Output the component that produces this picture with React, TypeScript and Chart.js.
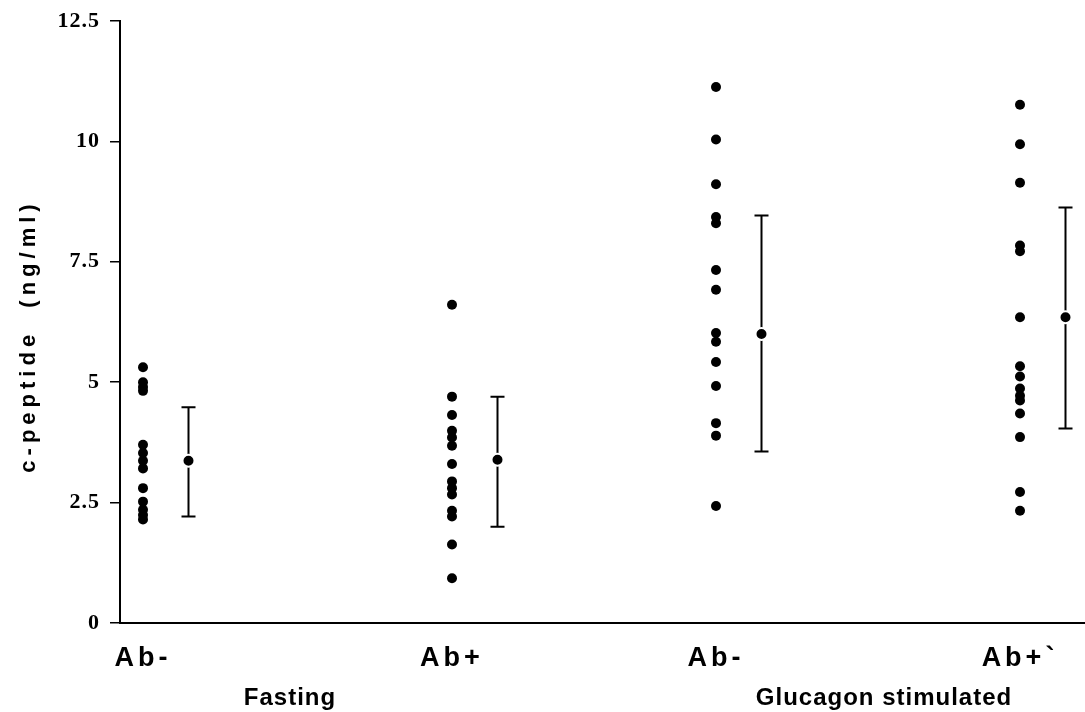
import React, { useEffect, useRef } from "react";
import { Chart, registerables } from "chart.js";

Chart.register(...registerables);

// ---- data ----
const categoryLabels = ["Ab-", "Ab+", "Ab-", "Ab+`"];
const groupLabels = ["Fasting", "Glucagon stimulated"];

const abNegFasting = [5.31, 5.0, 4.9, 4.82, 3.7, 3.53, 3.37, 3.21, 2.8, 2.52, 2.35, 2.24, 2.15];
const abPosFasting = [6.61, 4.7, 4.32, 3.99, 3.85, 3.68, 3.3, 2.94, 2.8, 2.67, 2.33, 2.21, 1.63, 0.93];
const abNegGlucagon = [11.13, 10.04, 9.11, 8.43, 8.3, 7.33, 6.92, 6.02, 5.84, 5.42, 4.92, 4.15, 3.89, 2.43];
const abPosGlucagon = [10.76, 9.94, 9.14, 7.84, 7.72, 6.35, 5.33, 5.12, 4.87, 4.72, 4.62, 4.35, 3.86, 2.72, 2.33];

const meanValues = [3.37, 3.39, 6.0, 6.35];
const sdUpper = [4.48, 4.7, 8.46, 8.63];
const sdLower = [2.21, 2.0, 3.56, 4.04];

const yTickValues = [0, 2.5, 5, 7.5, 10, 12.5];
const yTickLabels = ["0", "2.5", "5", "7.5", "10", "12.5"];
const yTitle = "c-peptide  (ng/ml)";

// category positions along the (linear) x axis
const categoryX = [0.23, 3.32, 5.96, 9.0];
const meanOffset = 0.455;
const groupCenterX = [1.7, 7.64];
const xMin = 0;
const xMax = 9.65;

const seriesValues = [abNegFasting, abPosFasting, abNegGlucagon, abPosGlucagon];

const SANS = "'Liberation Sans', Arial, Helvetica, sans-serif";
const SERIF = "'Liberation Serif', 'Times New Roman', serif";

const customPlugin = {
  id: "customDraw",
  beforeDraw(chart: any) {
    chart.ctx.letterSpacing = "4px";
  },
  beforeDatasetsDraw(chart: any) {
    const ctx = chart.ctx;
    ctx.letterSpacing = "1px";
    const xs = chart.scales.x;
    const ys = chart.scales.y;
    ctx.save();
    ctx.strokeStyle = "#000";
    ctx.lineWidth = 2;
    meanValues.forEach((_m, i) => {
      const px = xs.getPixelForValue(categoryX[i] + meanOffset);
      const top = ys.getPixelForValue(sdUpper[i]);
      const bot = ys.getPixelForValue(sdLower[i]);
      ctx.beginPath();
      ctx.moveTo(px, top);
      ctx.lineTo(px, bot);
      ctx.moveTo(px - 7, top);
      ctx.lineTo(px + 7, top);
      ctx.moveTo(px - 7, bot);
      ctx.lineTo(px + 7, bot);
      ctx.stroke();
    });
    ctx.restore();
  },
  afterDraw(chart: any) {
    const ctx = chart.ctx;
    const area = chart.chartArea;
    ctx.save();
    ctx.letterSpacing = "5px";
    ctx.font = `bold 22px ${SANS}`;
    ctx.fillStyle = "#000";
    ctx.translate(35, (area.top + area.bottom) / 2 + 14);
    ctx.rotate(-Math.PI / 2);
    ctx.textAlign = "center";
    ctx.textBaseline = "alphabetic";
    ctx.fillText(yTitle, 0, 0);
    ctx.restore();
    ctx.letterSpacing = "0px";
  },
};

const zeroHorizontalPadding = (s: any) => {
  s.paddingLeft = 0;
  s.paddingRight = 0;
};

export default function App() {
  const ref = useRef<HTMLCanvasElement>(null);

  useEffect(() => {
    const individual = seriesValues.flatMap((vals, i) =>
      vals.map((v) => ({ x: categoryX[i], y: v }))
    );
    const means = meanValues.map((m, i) => ({ x: categoryX[i] + meanOffset, y: m }));

    const chart = new Chart(ref.current as HTMLCanvasElement, {
      type: "scatter",
      data: {
        datasets: [
          {
            label: "Individual",
            data: individual,
            pointRadius: 5,
            pointHoverRadius: 5,
            backgroundColor: "#000",
            borderColor: "#000",
            borderWidth: 0,
          },
          {
            label: "Mean",
            data: means,
            pointRadius: 6,
            pointHoverRadius: 6,
            backgroundColor: "#000",
            borderColor: "#fff",
            borderWidth: 2,
          },
        ],
      },
      options: {
        animation: false,
        responsive: false,
        events: [],
        layout: { autoPadding: false, padding: { top: 21, left: 0, right: 0, bottom: 0 } },
        plugins: {
          legend: { display: false },
          tooltip: { enabled: false },
          title: { display: false },
        },
        scales: {
          x: {
            type: "linear",
            position: "bottom",
            min: xMin,
            max: xMax,
            afterBuildTicks: (axis: any) => {
              axis.ticks = categoryX.map((v) => ({ value: v }));
            },
            afterFit: (s: any) => {
              s.height = 50;
              zeroHorizontalPadding(s);
            },
            grid: { display: false, drawTicks: false },
            border: { display: true, color: "#000", width: 2 },
            ticks: {
              callback: (_v: any, i: number) => categoryLabels[i],
              autoSkip: false,
              maxRotation: 0,
              minRotation: 0,
              padding: 19,
              color: "#000",
              font: { family: SANS, size: 27, weight: "bold" },
              z: 0,
            },
          },
          x2: {
            type: "linear",
            axis: "x",
            position: "bottom",
            min: xMin,
            max: xMax,
            afterBuildTicks: (axis: any) => {
              axis.ticks = groupCenterX.map((v) => ({ value: v }));
            },
            afterFit: (s: any) => {
              s.height = 39;
              zeroHorizontalPadding(s);
            },
            grid: { display: false, drawTicks: false },
            border: { display: false },
            ticks: {
              callback: (_v: any, i: number) => groupLabels[i],
              autoSkip: false,
              maxRotation: 0,
              minRotation: 0,
              padding: 11,
              color: "#000",
              font: { family: SANS, size: 24, weight: "bold" },
              z: 1,
            },
          },
          y: {
            type: "linear",
            min: 0,
            max: 12.5,
            afterBuildTicks: (axis: any) => {
              axis.ticks = yTickValues.map((v) => ({ value: v }));
            },
            afterFit: (s: any) => {
              s.width = 120;
              s.paddingTop = 0;
              s.paddingBottom = 0;
              s.paddingLeft = 0;
              s.paddingRight = 0;
            },
            grid: {
              display: true,
              drawOnChartArea: false,
              drawTicks: true,
              tickLength: 10,
              color: "#000",
              lineWidth: 1.5,
            },
            border: { display: true, color: "#000", width: 2 },
            ticks: {
              callback: (_v: any, i: number) => yTickLabels[i],
              padding: 10,
              color: "#000",
              font: { family: SERIF, size: 22, weight: "bold" },
              z: 1,
            },
          },
        },
      },
      plugins: [customPlugin],
    } as any);

    return () => chart.destroy();
  }, []);

  return (
    <div
      style={{
        position: "absolute",
        left: 0,
        top: 0,
        width: 1085,
        height: 712,
        background: "#fff",
      }}
    >
      <canvas ref={ref} width={1085} height={712} style={{ display: "block" }} />
    </div>
  );
}
